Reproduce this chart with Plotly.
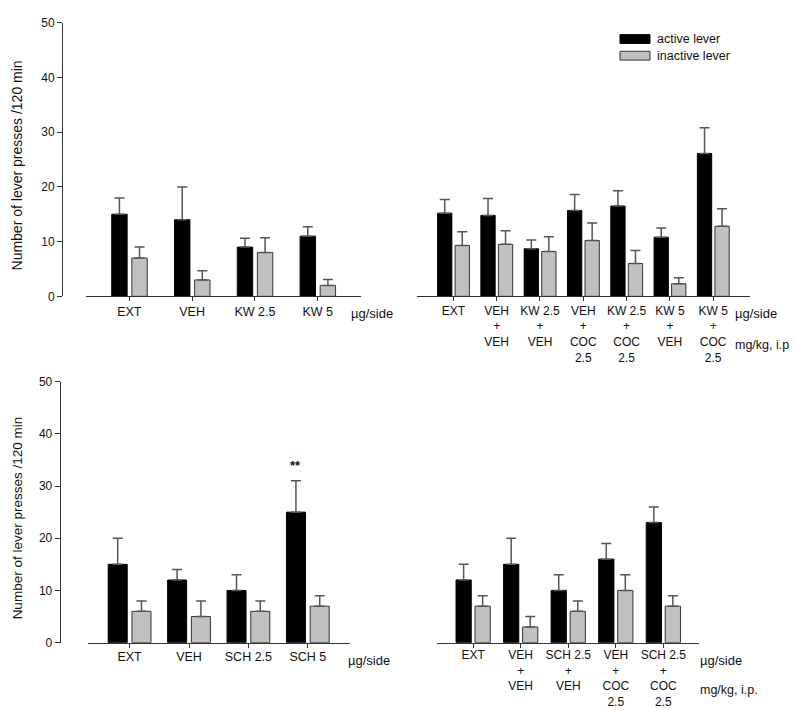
import plotly.graph_objects as go

# ---------------- data ----------------
tl_categories = ["EXT", "VEH", "KW 2.5", "KW 5"]
tl_active = [15.0, 14.0, 9.0, 11.0]
tl_active_top = [18.0, 20.0, 10.6, 12.7]
tl_inactive = [7.0, 3.0, 8.0, 2.0]
tl_inactive_top = [9.0, 4.7, 10.7, 3.1]

tr_categories = ["EXT", "VEH<br>+<br>VEH", "KW 2.5<br>+<br>VEH", "VEH<br>+<br>COC<br>2.5",
                 "KW 2.5<br>+<br>COC<br>2.5", "KW 5<br>+<br>VEH", "KW 5<br>+<br>COC<br>2.5"]
tr_active = [15.2, 14.8, 8.7, 15.7, 16.5, 10.8, 26.1]
tr_active_top = [17.7, 17.9, 10.3, 18.6, 19.3, 12.5, 30.8]
tr_inactive = [9.3, 9.5, 8.2, 10.2, 6.0, 2.3, 12.8]
tr_inactive_top = [11.8, 12.0, 10.9, 13.4, 8.4, 3.4, 16.0]

bl_categories = ["EXT", "VEH", "SCH 2.5", "SCH 5"]
bl_active = [15.0, 12.0, 10.0, 25.0]
bl_active_top = [20.0, 14.0, 13.0, 31.0]
bl_inactive = [6.0, 5.0, 6.0, 7.0]
bl_inactive_top = [8.0, 8.0, 8.0, 9.0]

br_categories = ["EXT", "VEH<br>+<br>VEH", "SCH 2.5<br>+<br>VEH", "VEH<br>+<br>COC<br>2.5",
                 "SCH 2.5<br>+<br>COC<br>2.5"]
br_active = [12.0, 15.0, 10.0, 16.0, 23.0]
br_active_top = [15.0, 20.0, 13.0, 19.0, 26.0]
br_inactive = [7.0, 3.0, 6.0, 10.0, 7.0]
br_inactive_top = [9.0, 5.0, 8.0, 13.0, 9.0]

y_ticks = [0, 10, 20, 30, 40, 50]
series_names = ["active lever", "inactive lever"]

# ---------------- style ----------------
W, H = 798, 710
FONT = "Arial, Liberation Sans, sans-serif"
BLACK = "#000000"
GRAY = "#c0c0c0"
AXIS_COLOR = "#333333"
ERR_COLOR = "#555555"
TXT = "#111111"


def px(x):
    return x / W


def py(y):
    return 1 - y / H


fig = go.Figure()

panels = [
    (tl_categories, tl_active, tl_active_top, tl_inactive, tl_inactive_top, "x", "y", -0.28, 0.04, 0.245),
    (tr_categories, tr_active, tr_active_top, tr_inactive, tr_inactive_top, "x2", "y", -0.365, 0.04, 0.33),
    (bl_categories, bl_active, bl_active_top, bl_inactive, bl_inactive_top, "x3", "y3", -0.36, 0.04, 0.32),
    (br_categories, br_active, br_active_top, br_inactive, br_inactive_top, "x4", "y3", -0.36, 0.04, 0.32),
]

for cats, act, act_top, ina, ina_top, xa, ya, oa, oi, w in panels:
    fig.add_trace(go.Bar(
        x=cats, y=act, name=series_names[0], xaxis=xa, yaxis=ya,
        offset=oa, width=w, showlegend=False,
        marker=dict(color=BLACK, line=dict(color=BLACK, width=1)),
        error_y=dict(type="data", symmetric=False,
                     array=[t - v for t, v in zip(act_top, act)],
                     arrayminus=[0] * len(act),
                     color=ERR_COLOR, thickness=1.5, width=5),
    ))
    fig.add_trace(go.Bar(
        x=cats, y=ina, name=series_names[1], xaxis=xa, yaxis=ya,
        offset=oi, width=w, showlegend=False,
        marker=dict(color=GRAY, line=dict(color="#333333", width=1)),
        error_y=dict(type="data", symmetric=False,
                     array=[t - v for t, v in zip(ina_top, ina)],
                     arrayminus=[0] * len(ina),
                     color=ERR_COLOR, thickness=1.5, width=5),
    ))


def xaxis_style(domain, rng, anchor, size, standoff):
    return dict(type="category", showgrid=False, zeroline=False, showline=True,
                linecolor=AXIS_COLOR, linewidth=1, ticks="outside", ticklen=4,
                tickcolor=AXIS_COLOR, tickfont=dict(family=FONT, size=size, color=TXT),
                ticklabelstandoff=standoff, fixedrange=True,
                domain=domain, range=rng, anchor=anchor)


ycommon = dict(range=[0, 50], tickvals=y_ticks, showgrid=False, zeroline=False,
               showline=True, linecolor=AXIS_COLOR, linewidth=1, ticks="outside",
               ticklen=5, tickcolor=AXIS_COLOR,
               tickfont=dict(family=FONT, size=12, color=TXT), fixedrange=True)

fig.update_layout(
    width=W, height=H,
    margin=dict(l=0, r=0, t=0, b=0),
    paper_bgcolor="white", plot_bgcolor="rgba(0,0,0,0)",
    barmode="overlay",
    showlegend=False,
    font=dict(family=FONT, size=12, color=TXT),
    xaxis=xaxis_style([px(78), px(353)], [-0.69, 3.69], "y", 12.5, 0),
    xaxis2=xaxis_style([px(409), px(742)], [-0.84, 6.85], "y", 12, -1),
    xaxis3=xaxis_style([px(80), px(342)], [-0.70, 3.71], "y3", 12.5, -2),
    xaxis4=xaxis_style([px(429), px(691)], [-0.76, 4.75], "y3", 12, -3),
    yaxis=dict(**ycommon, domain=[py(287), py(8)], anchor="free", position=px(54)),
    yaxis3=dict(**ycommon, domain=[py(640.3), py(374)], anchor="free", position=px(51.7)),
)

ann = []
title = "Number of lever presses /120 min"
ann.append(dict(text=title, xref="paper", yref="paper", x=px(9), y=py(153.5),
                textangle=-90, showarrow=False, font=dict(family=FONT, size=14, color=TXT),
                xanchor="center", yanchor="middle"))
ann.append(dict(text=title, xref="paper", yref="paper", x=px(9), y=py(513.5),
                textangle=-90, showarrow=False, font=dict(family=FONT, size=13.5, color=TXT),
                xanchor="center", yanchor="middle"))

units = [
    ("µg/side", 341, 305, 13), ("µg/side", 725, 305, 13), ("mg/kg, i.p.", 725, 337, 12.5),
    ("µg/side", 338, 658, 13), ("µg/side", 690, 658, 13), ("mg/kg, i.p.", 690, 689, 12.5),
]
for t, x, y, s in units:
    ann.append(dict(text=t, xref="paper", yref="paper", x=px(x), y=py(y),
                    xanchor="left", yanchor="middle", showarrow=False,
                    font=dict(family=FONT, size=s, color=TXT)))

# significance marker
ann.append(dict(text="<b>**</b>", xref="x3", yref="y3", x=bl_categories[3], y=32.2,
                xshift=-12, xanchor="center", yanchor="bottom", showarrow=False,
                font=dict(family=FONT, size=13, color=TXT)))

# legend (custom, wide swatches)
legend_rows = [(series_names[0], BLACK, BLACK, 20, 29), (series_names[1], GRAY, "#333333", 37, 46)]
shapes = []
for name, fill, line, y0, y1 in legend_rows:
    shapes.append(dict(type="rect", xref="paper", yref="paper",
                       x0=px(612), x1=px(642), y0=py(y1), y1=py(y0),
                       fillcolor=fill, line=dict(color=line, width=1)))
    ann.append(dict(text=name, xref="paper", yref="paper", x=px(647), y=py((y0 + y1) / 2),
                    xanchor="left", yanchor="middle", showarrow=False,
                    font=dict(family=FONT, size=12.5, color=TXT)))

fig.update_layout(annotations=ann, shapes=shapes)

fig.write_html("out.html")
